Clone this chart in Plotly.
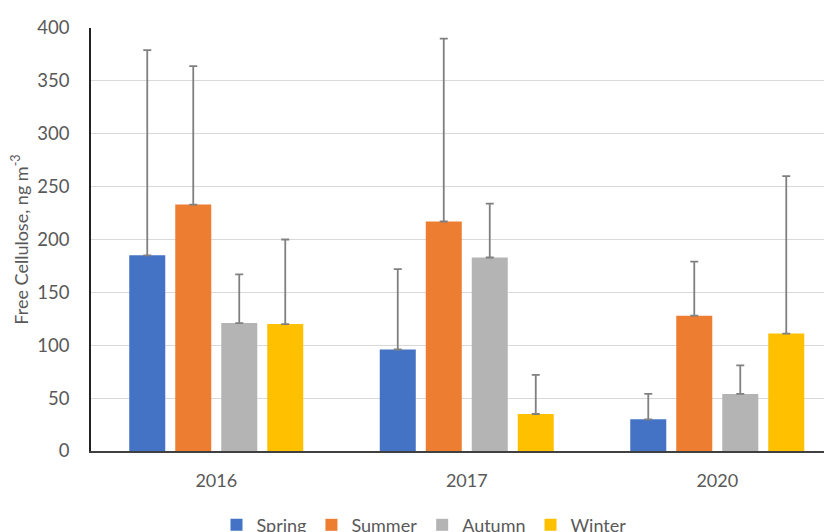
import plotly.graph_objects as go

years = ["2016", "2017", "2020"]
seasons = ["Spring", "Summer", "Autumn", "Winter"]
colors = ["#4472C4", "#ED7D31", "#B4B4B4", "#FFC000"]

spring = [185, 96, 30]
summer = [233, 217, 128]
autumn = [121, 183, 54]
winter = [120, 35, 111]

spring_top = [379, 172, 54]
summer_top = [364, 390, 179]
autumn_top = [167, 234, 81]
winter_top = [200, 72, 260]

values = [spring, summer, autumn, winter]
tops = [spring_top, summer_top, autumn_top, winter_top]

fig = go.Figure()
for name, col, v, t in zip(seasons, colors, values, tops):
    fig.add_trace(go.Bar(
        x=years, y=v, name=name,
        marker=dict(color=col, line=dict(width=0)),
        error_y=dict(type="data", symmetric=False,
                     array=[b - a for a, b in zip(v, t)],
                     arrayminus=[0] * len(v),
                     color="#808080", thickness=1.8, width=4),
    ))

font_family = "Lato"
fig.update_layout(
    width=832, height=532,
    margin=dict(l=83, r=8, t=14, b=89),
    plot_bgcolor="white", paper_bgcolor="white",
    barmode="group", bargap=0.2655, bargroupgap=0.217,
    font=dict(family=font_family, color="#595959", size=18),
    legend=dict(orientation="h", xref="container", yref="container",
                x=0.5, xanchor="center", y=0.028, yanchor="middle",
                font=dict(size=18, color="#595959"), itemwidth=30,
                bgcolor="rgba(0,0,0,0)"),
    xaxis=dict(range=[-0.5, 2.458], showline=True, linecolor="#404040",
               linewidth=1.5, showgrid=False, ticks="",
               ticklabelstandoff=13, tickfont=dict(size=18)),
    yaxis=dict(range=[0, 400], dtick=50, showline=True, linecolor="#222222",
               linewidth=1.5, gridcolor="#D9D9D9", gridwidth=1.3,
               zeroline=False, ticks="", ticklabelstandoff=16,
               tickfont=dict(size=18.5),
               title=dict(text="Free Cellulose, ng m<sup>-3</sup>",
                          font=dict(size=18, color="#595959"), standoff=9)),
)

fig.write_html("out.html")
